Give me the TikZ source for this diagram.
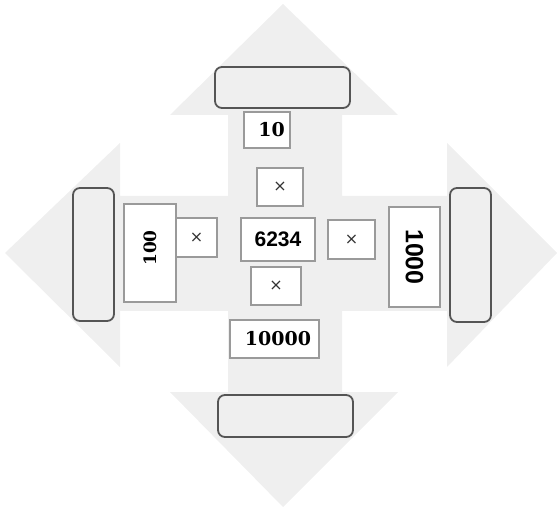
\documentclass[tikz,border=0pt]{standalone}
\usepackage{fontspec}
\setmainfont{DejaVu Serif}
\newfontfamily\sansf{Liberation Sans}
\newfontfamily\symf{DejaVu Sans}
\definecolor{crossfill}{HTML}{EFEFEF}
\definecolor{darkedge}{HTML}{555555}
\definecolor{boxedge}{HTML}{9A9A9A}
\tikzset{
  slot/.style={draw=darkedge, line width=1.8pt, fill=crossfill, rounded corners=7pt, inner sep=0pt},
  valbox/.style={draw=boxedge, line width=1.3pt, fill=white, inner sep=0pt},
  sval/.style={font=\fontsize{19}{19}\selectfont\bfseries},
  smallsval/.style={font=\fontsize{17}{17}\selectfont\bfseries},
  nval/.style={font=\sansf\fontsize{21}{21}\selectfont\bfseries},
  bignval/.style={font=\sansf\fontsize{25}{25}\selectfont\bfseries},
  xval/.style={font=\symf\fontsize{16}{16}\selectfont, text=black!80}
}
\begin{document}
\begin{tikzpicture}[x=1pt,y=-1pt]
\useasboundingbox (0,0) rectangle (560,513);
% cross with four arrowheads
\fill[crossfill] (283,4) -- (398,115) -- (342,115) -- (342,196) -- (447,196) -- (447,143)
  -- (557,253) -- (447,367) -- (447,311) -- (342,311) -- (342,392) -- (398,392)
  -- (283,507) -- (170,392) -- (228,392) -- (228,311) -- (120,311) -- (120,367)
  -- (5,253) -- (120,143) -- (120,196) -- (228,196) -- (228,115) -- (170,115) -- cycle;
% rounded slots
\node[slot, minimum width=135pt, minimum height=41pt] (topslot) at (282.5,87.5) {};
\node[slot, minimum width=135pt, minimum height=42pt] (botslot) at (285.5,416) {};
\node[slot, minimum width=41pt, minimum height=133pt] (leftslot) at (93.5,254.5) {};
\node[slot, minimum width=41pt, minimum height=134pt] (rightslot) at (470.5,255) {};
% value boxes
\node[valbox, sval, minimum width=46pt, minimum height=36pt] (v10) at (267,130) {\hspace*{9pt}10};
\node[valbox, xval, minimum width=46pt, minimum height=38pt] (xtop) at (280,187) {\raisebox{-3pt}{×}};
\node[valbox, smallsval, minimum width=52pt, minimum height=98pt] (v100) at (150,253) {\rotatebox{90}{\hspace*{10pt}100}};
\node[valbox, xval, minimum width=41pt, minimum height=39pt] (xleft) at (196.5,237.5) {\raisebox{-2pt}{×}};
\node[valbox, nval, minimum width=74pt, minimum height=43pt] (center) at (278,239.5) {6234};
\node[valbox, xval, minimum width=47pt, minimum height=39pt] (xright) at (351.5,239.5) {\raisebox{-2pt}{×}};
\node[valbox, bignval, minimum width=51pt, minimum height=100pt] (v1000) at (414.5,257) {\rotatebox{-90}{1000}};
\node[valbox, xval, minimum width=50pt, minimum height=38pt] (xbot) at (276,286) {\raisebox{-2pt}{×}};
\node[valbox, sval, minimum width=89pt, minimum height=38pt] (v10000) at (274.5,339) {\hspace*{7pt}10000};
\end{tikzpicture}
\end{document}
